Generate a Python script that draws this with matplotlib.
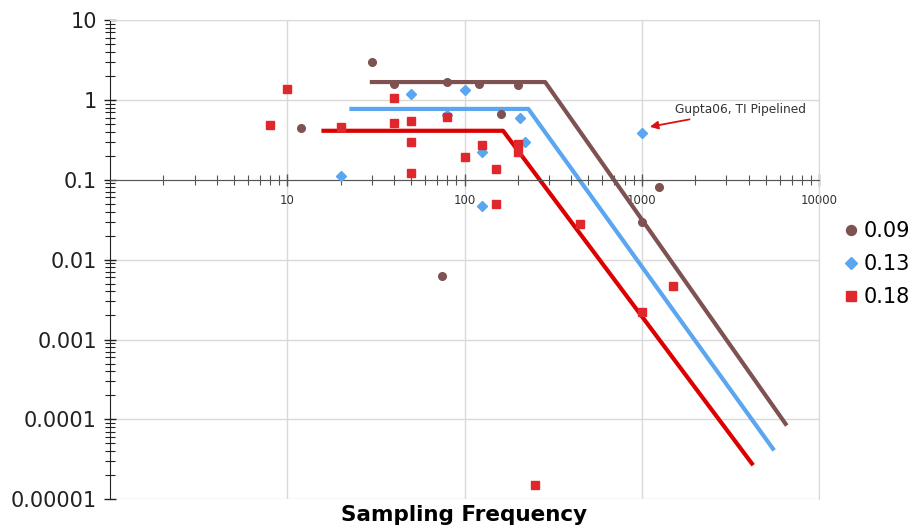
import matplotlib.pyplot as plt
from matplotlib.ticker import LogLocator, FixedLocator, FixedFormatter, NullFormatter

# measured designs, grouped by process node
freq_009 = [12, 30, 40, 80, 120, 160, 200, 75, 1000, 1250]
fom_009 = [0.45, 3.0, 1.6, 1.65, 1.57, 0.67, 1.53, 0.0063, 0.03, 0.081]

freq_013 = [20, 50, 80, 100, 125, 125, 205, 220, 1000]
fom_013 = [0.11, 1.18, 0.65, 1.33, 0.225, 0.0475, 0.59, 0.295, 0.38]

freq_018 = [8, 10, 20, 40, 40, 50, 50, 50, 80, 100, 125, 150, 150,
            200, 200, 250, 450, 1000, 1500]
fom_018 = [0.48, 1.37, 0.46, 1.06, 0.51, 0.54, 0.30, 0.12, 0.61, 0.19,
           0.27, 0.137, 0.05, 0.28, 0.225, 1.5e-5, 0.028, 0.0022, 0.0047]

# envelope: flat region then roll-off
env_f_009 = [30, 285, 6470]
env_v_009 = [1.67, 1.67, 8.8e-5]
env_f_013 = [23, 229, 5490]
env_v_013 = [0.77, 0.77, 4.3e-5]
env_f_018 = [16, 165, 4180]
env_v_018 = [0.41, 0.41, 2.8e-5]

y_ticks = [1e-5, 1e-4, 1e-3, 1e-2, 1e-1, 1, 10]
y_labels = ["0.00001", "0.0001", "0.001", "0.01", "0.1", "1", "10"]
x_ticks = [10, 100, 1000, 10000]
x_labels = ["10", "100", "1000", "10000"]

brown = "#7f5252"
blue = "#5aa6f0"
red = "#e0282c"
red_line = "#dd0000"
grid_c = "#d9d9d9"

fig = plt.figure(figsize=(9.17, 5.28), dpi=100)
ax = fig.add_axes([0.12, 0.0544, 0.7732, 0.9078])
ax.set_xscale("log")
ax.set_yscale("log")
ax.set_xlim(1, 10000)
ax.set_ylim(1e-5, 10)

# grid
for x in x_ticks:
    ax.axvline(x, color=grid_c, lw=1, zorder=0)
for y in y_ticks:
    ax.axhline(y, color=grid_c, lw=1, zorder=0)

# trend lines
ax.plot(env_f_009, env_v_009, color=brown, lw=3, zorder=2)
ax.plot(env_f_013, env_v_013, color=blue, lw=3, zorder=2)
ax.plot(env_f_018, env_v_018, color=red_line, lw=3, zorder=2)

# data points
ax.plot(freq_009, fom_009, "o", color=brown, ms=5.5, ls="none", label="0.09", zorder=3)
ax.plot(freq_013, fom_013, "D", color=blue, ms=5, ls="none", label="0.13", zorder=3)
ax.plot(freq_018, fom_018, "s", color=red, ms=6, ls="none", label="0.18", zorder=3)

# axes styling
ax.spines["bottom"].set_position(("data", 0.1))
ax.spines["bottom"].set_color("#555555")
ax.spines["left"].set_color("#222222")
ax.spines["top"].set_color(grid_c)
ax.spines["right"].set_color(grid_c)

ax.yaxis.set_major_locator(FixedLocator(y_ticks))
ax.yaxis.set_major_formatter(FixedFormatter(y_labels))
ax.yaxis.set_minor_locator(LogLocator(base=10, subs=range(2, 10), numticks=20))
ax.yaxis.set_minor_formatter(NullFormatter())
ax.xaxis.set_major_locator(FixedLocator(x_ticks))
ax.xaxis.set_major_formatter(FixedFormatter(x_labels))
ax.xaxis.set_minor_locator(LogLocator(base=10, subs=range(2, 10), numticks=20))
ax.xaxis.set_minor_formatter(NullFormatter())

ax.tick_params(axis="y", which="major", direction="inout", length=9, width=1,
               labelsize=15, pad=5, colors="#222222")
ax.tick_params(axis="y", which="minor", direction="inout", length=7, width=0.8,
               colors="#222222")
ax.tick_params(axis="x", which="major", direction="inout", length=9, width=1,
               labelsize=8.5, pad=6, colors="#555555", labelcolor="#333333")
ax.tick_params(axis="x", which="minor", direction="inout", length=7, width=0.8,
               colors="#555555")

# annotation
ax.annotate("Gupta06, TI Pipelined", xy=(1110, 0.46), xytext=(1540, 0.75),
            fontsize=8.8, color="#333333", va="center", ha="left",
            arrowprops=dict(arrowstyle="-|>", color="#dd1111", lw=1.3,
                            mutation_scale=12, shrinkA=1, shrinkB=0))

fig.text(0.5065, 1 - 515 / 528, "Sampling Frequency", ha="center", va="center",
         fontsize=15.5, fontweight="bold")

fig.legend(loc="upper left", bbox_to_anchor=(832 / 917, 1 - 213 / 528),
           frameon=False, fontsize=15, handletextpad=0.1, labelspacing=0.62,
           markerscale=1.3, borderaxespad=0, handlelength=1.0)

fig.savefig("out.png", dpi=100)
